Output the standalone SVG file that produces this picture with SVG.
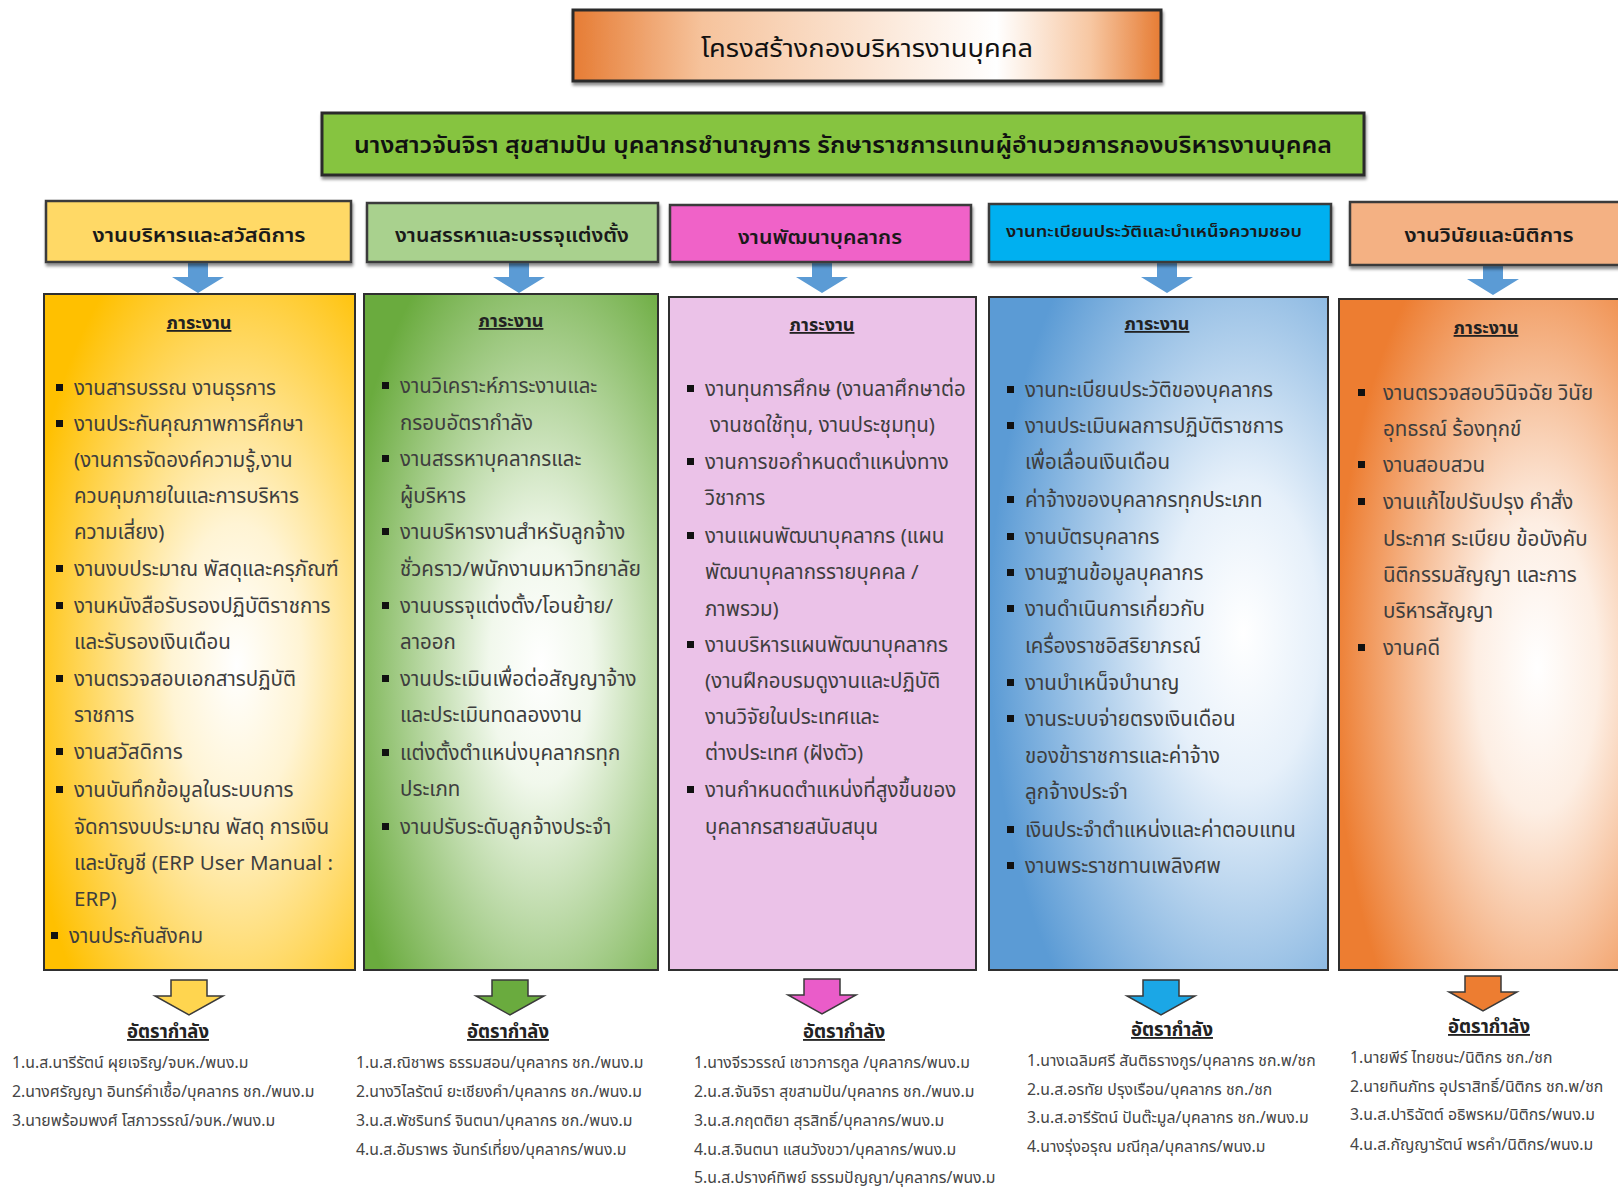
<svg xmlns="http://www.w3.org/2000/svg" width="1618" height="1189" viewBox="0 0 1618 1189">
<defs>
<style>
text{font-family:"Noto Sans Thai","Tahoma","Noto Sans","Liberation Sans",sans-serif;}
.ttl{font-size:25px;fill:#111;text-anchor:middle;}
.sub{font-size:23px;fill:#111;text-anchor:middle;font-weight:600;}
.hd{font-size:20px;fill:#1a1a1a;text-anchor:middle;font-weight:600;}
.hd4{font-size:16px;fill:#1a1a1a;text-anchor:middle;font-weight:600;}
.frame{stroke:#2b2b2b;stroke-width:3;}
.hbox{stroke:#3a3a3a;stroke-width:2.5;}
.body{stroke:#2f2f2f;stroke-width:2;}
.lbl{font-size:18px;fill:#222;text-anchor:middle;font-weight:700;text-decoration:underline;}
.it{font-size:20.5px;fill:#3e3e3e;}
.bl{fill:#111;}
.rate{font-size:18.5px;fill:#222;text-anchor:middle;font-weight:700;text-decoration:underline;}
.pp{font-size:15.8px;fill:#454545;}
.barrow{fill:#5b9bd5;}
.oarrow{stroke:#3a3a3a;stroke-width:1.5;}
</style>
<filter id="sh" x="-5%" y="-10%" width="110%" height="130%">
<feDropShadow dx="1" dy="3" stdDeviation="1.5" flood-color="#000" flood-opacity="0.45"/>
</filter>
<linearGradient id="gTitle" x1="0" y1="0" x2="1" y2="0">
<stop offset="0" stop-color="#e67c34"/>
<stop offset="0.22" stop-color="#f6c39c"/>
<stop offset="0.72" stop-color="#ffffff"/>
<stop offset="0.88" stop-color="#f7c7a2"/>
<stop offset="1" stop-color="#e67c34"/>
</linearGradient>
<radialGradient id="gYel" cx="0.62" cy="0.55" r="0.7">
<stop offset="0" stop-color="#ffffff"/>
<stop offset="0.3" stop-color="#fff4d4"/>
<stop offset="1" stop-color="#ffc000"/>
</radialGradient>
<radialGradient id="gGrn" cx="0.6" cy="0.55" r="0.7">
<stop offset="0" stop-color="#ffffff"/>
<stop offset="0.25" stop-color="#f1f8ec"/>
<stop offset="1" stop-color="#6aab3e"/>
</radialGradient>
<radialGradient id="gBlu" cx="0.75" cy="0.5" r="0.75">
<stop offset="0" stop-color="#ffffff"/>
<stop offset="0.3" stop-color="#e6f0fa"/>
<stop offset="1" stop-color="#5b9bd5"/>
</radialGradient>
<radialGradient id="gOrg" cx="0.7" cy="0.55" r="0.72">
<stop offset="0" stop-color="#ffffff"/>
<stop offset="0.3" stop-color="#fdeee3"/>
<stop offset="1" stop-color="#ed7d31"/>
</radialGradient>
<path id="aBlue" d="M-10,0 H10 V14 H26 L0,30 L-26,14 H-10 Z"/>
<path id="aOut" d="M-18,0 H18 V16 H34 L0,35 L-34,16 H-18 Z"/>
</defs>
<rect width="1618" height="1189" fill="#ffffff"/>

<g id="title">
<rect x="573" y="10" width="588" height="71" fill="url(#gTitle)" class="frame" filter="url(#sh)"/>
<text x="867" y="57" class="ttl" textLength="332" lengthAdjust="spacingAndGlyphs">โครงสร้างกองบริหารงานบุคคล</text>
</g>

<g id="director">
<rect x="322" y="113" width="1042" height="62" fill="#86c440" class="frame" filter="url(#sh)"/>
<text x="843" y="153" class="sub" textLength="978" lengthAdjust="spacingAndGlyphs">นางสาวจันจิรา สุขสามปัน บุคลากรชำนาญการ รักษาราชการแทนผู้อำนวยการกองบริหารงานบุคคล</text>
</g>

<g id="connectors">
<use href="#aBlue" x="198" y="263" class="barrow"/>
<use href="#aBlue" x="519" y="263" class="barrow"/>
<use href="#aBlue" x="822" y="263" class="barrow"/>
<use href="#aBlue" x="1167" y="263" class="barrow"/>
<use href="#aBlue" x="1493" y="265" class="barrow"/>
<use href="#aOut" x="189" y="980" fill="#ffd54f" class="oarrow"/>
<use href="#aOut" x="510" y="980" fill="#6aab3e" class="oarrow"/>
<use href="#aOut" x="822" y="979" fill="#ea5cc9" class="oarrow"/>
<use href="#aOut" x="1161" y="980" fill="#1ba7e6" class="oarrow"/>
<use href="#aOut" x="1483" y="976" fill="#ed7d31" class="oarrow"/>
</g>

<g id="col1">
<g id="head1">
<rect x="46" y="201" width="305" height="61" fill="#ffd966" class="hbox" filter="url(#sh)"/>
<text x="199" y="242" class="hd" textLength="213" lengthAdjust="spacingAndGlyphs">งานบริหารและสวัสดิการ</text>
</g>
<g id="tasks1">
<rect x="44" y="294" width="311" height="676" fill="url(#gYel)" class="body"/>
<text x="199" y="329" class="lbl">ภาระงาน</text>
<rect x="56" y="384" width="7" height="7" class="bl"/><text x="74" y="395" class="it">งานสารบรรณ งานธุรการ</text>
<rect x="56" y="420" width="7" height="7" class="bl"/><text x="74" y="431" class="it">งานประกันคุณภาพการศึกษา</text>
<text x="74" y="467" class="it">(งานการจัดองค์ความรู้,งาน</text>
<text x="74" y="503" class="it">ควบคุมภายในและการบริหาร</text>
<text x="74" y="539" class="it">ความเสี่ยง)</text>
<rect x="56" y="565" width="7" height="7" class="bl"/><text x="74" y="576" class="it">งานงบประมาณ พัสดุและครุภัณฑ์</text>
<rect x="56" y="602" width="7" height="7" class="bl"/><text x="74" y="613" class="it">งานหนังสือรับรองปฏิบัติราชการ</text>
<text x="74" y="649" class="it">และรับรองเงินเดือน</text>
<rect x="56" y="675" width="7" height="7" class="bl"/><text x="74" y="686" class="it">งานตรวจสอบเอกสารปฏิบัติ</text>
<text x="74" y="722" class="it">ราชการ</text>
<rect x="56" y="748" width="7" height="7" class="bl"/><text x="74" y="759" class="it">งานสวัสดิการ</text>
<rect x="56" y="786" width="7" height="7" class="bl"/><text x="74" y="797" class="it">งานบันทึกข้อมูลในระบบการ</text>
<text x="74" y="834" class="it">จัดการงบประมาณ พัสดุ การเงิน</text>
<text x="74" y="870" class="it">และบัญชี (ERP User Manual :</text>
<text x="74" y="906" class="it">ERP)</text>
<rect x="51" y="932" width="7" height="7" class="bl"/><text x="69" y="943" class="it">งานประกันสังคม</text>
</g>
<g id="staff1">
<text x="168" y="1038" class="rate">อัตรากำลัง</text>
<text x="12" y="1068" class="pp">1.น.ส.นารีรัตน์ ผุยเจริญ/จบห./พนง.ม</text>
<text x="12" y="1097" class="pp">2.นางศรัญญา อินทร์คำเชื้อ/บุคลากร ชก./พนง.ม</text>
<text x="12" y="1126" class="pp">3.นายพร้อมพงศ์ โสภาวรรณ์/จบห./พนง.ม</text>
</g>
</g>

<g id="col2">
<g id="head2">
<rect x="367" y="203" width="291" height="59" fill="#a9d18e" class="hbox" filter="url(#sh)"/>
<text x="512" y="242" class="hd" textLength="234" lengthAdjust="spacingAndGlyphs">งานสรรหาและบรรจุแต่งตั้ง</text>
</g>
<g id="tasks2">
<rect x="364" y="294" width="294" height="676" fill="url(#gGrn)" class="body"/>
<text x="511" y="327" class="lbl">ภาระงาน</text>
<rect x="382" y="382" width="7" height="7" class="bl"/><text x="400" y="393" class="it">งานวิเคราะห์ภาระงานและ</text>
<text x="400" y="430" class="it">กรอบอัตรากำลัง</text>
<rect x="382" y="455" width="7" height="7" class="bl"/><text x="400" y="466" class="it">งานสรรหาบุคลากรและ</text>
<text x="400" y="503" class="it">ผู้บริหาร</text>
<rect x="382" y="528" width="7" height="7" class="bl"/><text x="400" y="539" class="it">งานบริหารงานสำหรับลูกจ้าง</text>
<text x="400" y="576" class="it">ชั่วคราว/พนักงานมหาวิทยาลัย</text>
<rect x="382" y="602" width="7" height="7" class="bl"/><text x="400" y="613" class="it">งานบรรจุแต่งตั้ง/โอนย้าย/</text>
<text x="400" y="649" class="it">ลาออก</text>
<rect x="382" y="675" width="7" height="7" class="bl"/><text x="400" y="686" class="it">งานประเมินเพื่อต่อสัญญาจ้าง</text>
<text x="400" y="722" class="it">และประเมินทดลองงาน</text>
<rect x="382" y="749" width="7" height="7" class="bl"/><text x="400" y="760" class="it">แต่งตั้งตำแหน่งบุคลากรทุก</text>
<text x="400" y="796" class="it">ประเภท</text>
<rect x="382" y="823" width="7" height="7" class="bl"/><text x="400" y="834" class="it">งานปรับระดับลูกจ้างประจำ</text>
</g>
<g id="staff2">
<text x="508" y="1038" class="rate">อัตรากำลัง</text>
<text x="356" y="1068" class="pp">1.น.ส.ณิชาพร ธรรมสอน/บุคลากร ชก./พนง.ม</text>
<text x="356" y="1097" class="pp">2.นางวิไลรัตน์ ยะเชียงคำ/บุคลากร ชก./พนง.ม</text>
<text x="356" y="1126" class="pp">3.น.ส.พัชรินทร์ จินตนา/บุคลากร ชก./พนง.ม</text>
<text x="356" y="1155" class="pp">4.น.ส.อัมราพร จันทร์เที่ยง/บุคลากร/พนง.ม</text>
</g>
</g>

<g id="col3">
<g id="head3">
<rect x="670" y="205" width="301" height="57" fill="#f062c8" class="hbox" filter="url(#sh)"/>
<text x="820" y="244" class="hd" textLength="164" lengthAdjust="spacingAndGlyphs">งานพัฒนาบุคลากร</text>
</g>
<g id="tasks3">
<rect x="669" y="297" width="307" height="673" fill="#ebc2e8" class="body"/>
<text x="822" y="331" class="lbl">ภาระงาน</text>
<rect x="687" y="385" width="7" height="7" class="bl"/><text x="705" y="396" class="it">งานทุนการศึกษ (งานลาศึกษาต่อ</text>
<text x="710" y="432" class="it">งานชดใช้ทุน, งานประชุมทุน)</text>
<rect x="687" y="458" width="7" height="7" class="bl"/><text x="705" y="469" class="it">งานการขอกำหนดตำแหน่งทาง</text>
<text x="705" y="505" class="it">วิชาการ</text>
<rect x="687" y="532" width="7" height="7" class="bl"/><text x="705" y="543" class="it">งานแผนพัฒนาบุคลากร (แผน</text>
<text x="705" y="579" class="it">พัฒนาบุคลากรรายบุคคล /</text>
<text x="705" y="616" class="it">ภาพรวม)</text>
<rect x="687" y="641" width="7" height="7" class="bl"/><text x="705" y="652" class="it">งานบริหารแผนพัฒนาบุคลากร</text>
<text x="705" y="688" class="it">(งานฝึกอบรมดูงานและปฏิบัติ</text>
<text x="705" y="724" class="it">งานวิจัยในประเทศและ</text>
<text x="705" y="760" class="it">ต่างประเทศ (ฝังตัว)</text>
<rect x="687" y="786" width="7" height="7" class="bl"/><text x="705" y="797" class="it">งานกำหนดตำแหน่งที่สูงขึ้นของ</text>
<text x="705" y="834" class="it">บุคลากรสายสนับสนุน</text>
</g>
<g id="staff3">
<text x="844" y="1038" class="rate">อัตรากำลัง</text>
<text x="694" y="1068" class="pp">1.นางจีรวรรณ์ เชาวการกูล /บุคลากร/พนง.ม</text>
<text x="694" y="1097" class="pp">2.น.ส.จันจิรา สุขสามปัน/บุคลากร ชก./พนง.ม</text>
<text x="694" y="1126" class="pp">3.น.ส.กฤตติยา สุรสิทธิ์/บุคลากร/พนง.ม</text>
<text x="694" y="1155" class="pp">4.น.ส.จินตนา แสนวังขวา/บุคลากร/พนง.ม</text>
<text x="694" y="1183" class="pp">5.น.ส.ปรางค์ทิพย์ ธรรมปัญญา/บุคลากร/พนง.ม</text>
</g>
</g>

<g id="col4">
<g id="head4">
<rect x="989" y="204" width="342" height="58" fill="#00b0f0" class="hbox" filter="url(#sh)"/>
<text x="1154" y="237" class="hd4" textLength="296" lengthAdjust="spacingAndGlyphs">งานทะเบียนประวัติและบำเหน็จความชอบ</text>
</g>
<g id="tasks4">
<rect x="989" y="297" width="339" height="673" fill="url(#gBlu)" class="body"/>
<text x="1157" y="330" class="lbl">ภาระงาน</text>
<rect x="1007" y="386" width="7" height="7" class="bl"/><text x="1025" y="397" class="it">งานทะเบียนประวัติของบุคลากร</text>
<rect x="1007" y="422" width="7" height="7" class="bl"/><text x="1025" y="433" class="it">งานประเมินผลการปฏิบัติราชการ</text>
<text x="1025" y="469" class="it">เพื่อเลื่อนเงินเดือน</text>
<rect x="1007" y="496" width="7" height="7" class="bl"/><text x="1025" y="507" class="it">ค่าจ้างของบุคลากรทุกประเภท</text>
<rect x="1007" y="533" width="7" height="7" class="bl"/><text x="1025" y="544" class="it">งานบัตรบุคลากร</text>
<rect x="1007" y="569" width="7" height="7" class="bl"/><text x="1025" y="580" class="it">งานฐานข้อมูลบุคลากร</text>
<rect x="1007" y="605" width="7" height="7" class="bl"/><text x="1025" y="616" class="it">งานดำเนินการเกี่ยวกับ</text>
<text x="1025" y="653" class="it">เครื่องราชอิสริยาภรณ์</text>
<rect x="1007" y="679" width="7" height="7" class="bl"/><text x="1025" y="690" class="it">งานบำเหน็จบำนาญ</text>
<rect x="1007" y="715" width="7" height="7" class="bl"/><text x="1025" y="726" class="it">งานระบบจ่ายตรงเงินเดือน</text>
<text x="1025" y="763" class="it">ของข้าราชการและค่าจ้าง</text>
<text x="1025" y="799" class="it">ลูกจ้างประจำ</text>
<rect x="1007" y="826" width="7" height="7" class="bl"/><text x="1025" y="837" class="it">เงินประจำตำแหน่งและค่าตอบแทน</text>
<rect x="1007" y="862" width="7" height="7" class="bl"/><text x="1025" y="873" class="it">งานพระราชทานเพลิงศพ</text>
</g>
<g id="staff4">
<text x="1172" y="1036" class="rate">อัตรากำลัง</text>
<text x="1027" y="1066" class="pp">1.นางเฉลิมศรี สันติธรางกูร/บุคลากร ชก.พ/ชก</text>
<text x="1027" y="1095" class="pp">2.น.ส.อรทัย ปรุงเรือน/บุคลากร ชก./ชก</text>
<text x="1027" y="1123" class="pp">3.น.ส.อารีรัตน์ ปันต๊ะมูล/บุคลากร ชก./พนง.ม</text>
<text x="1027" y="1152" class="pp">4.นางรุ่งอรุณ มณีกุล/บุคลากร/พนง.ม</text>
</g>
</g>

<g id="col5">
<g id="head5">
<rect x="1350" y="202" width="272" height="63" fill="#f4b183" class="hbox" filter="url(#sh)"/>
<text x="1489" y="242" class="hd" textLength="169" lengthAdjust="spacingAndGlyphs">งานวินัยและนิติการ</text>
</g>
<g id="tasks5">
<rect x="1339" y="299" width="283" height="671" fill="url(#gOrg)" class="body"/>
<text x="1486" y="334" class="lbl">ภาระงาน</text>
<rect x="1358" y="389" width="7" height="7" class="bl"/><text x="1383" y="400" class="it">งานตรวจสอบวินิจฉัย วินัย</text>
<text x="1383" y="436" class="it">อุทธรณ์ ร้องทุกข์</text>
<rect x="1358" y="461" width="7" height="7" class="bl"/><text x="1383" y="472" class="it">งานสอบสวน</text>
<rect x="1358" y="498" width="7" height="7" class="bl"/><text x="1383" y="509" class="it">งานแก้ไขปรับปรุง คำสั่ง</text>
<text x="1383" y="546" class="it">ประกาศ ระเบียบ ข้อบังคับ</text>
<text x="1383" y="582" class="it">นิติกรรมสัญญา และการ</text>
<text x="1383" y="618" class="it">บริหารสัญญา</text>
<rect x="1358" y="644" width="7" height="7" class="bl"/><text x="1383" y="655" class="it">งานคดี</text>
</g>
<g id="staff5">
<text x="1489" y="1033" class="rate">อัตรากำลัง</text>
<text x="1350" y="1063" class="pp">1.นายพีร์ ไทยชนะ/นิติกร ชก./ชก</text>
<text x="1350" y="1092" class="pp">2.นายทินภัทร อุปราสิทธิ์/นิติกร ชก.พ/ชก</text>
<text x="1350" y="1120" class="pp">3.น.ส.ปาริฉัตต์ อธิพรหม/นิติกร/พนง.ม</text>
<text x="1350" y="1150" class="pp">4.น.ส.กัญญารัตน์ พรคำ/นิติกร/พนง.ม</text>
</g>
</g>
</svg>
